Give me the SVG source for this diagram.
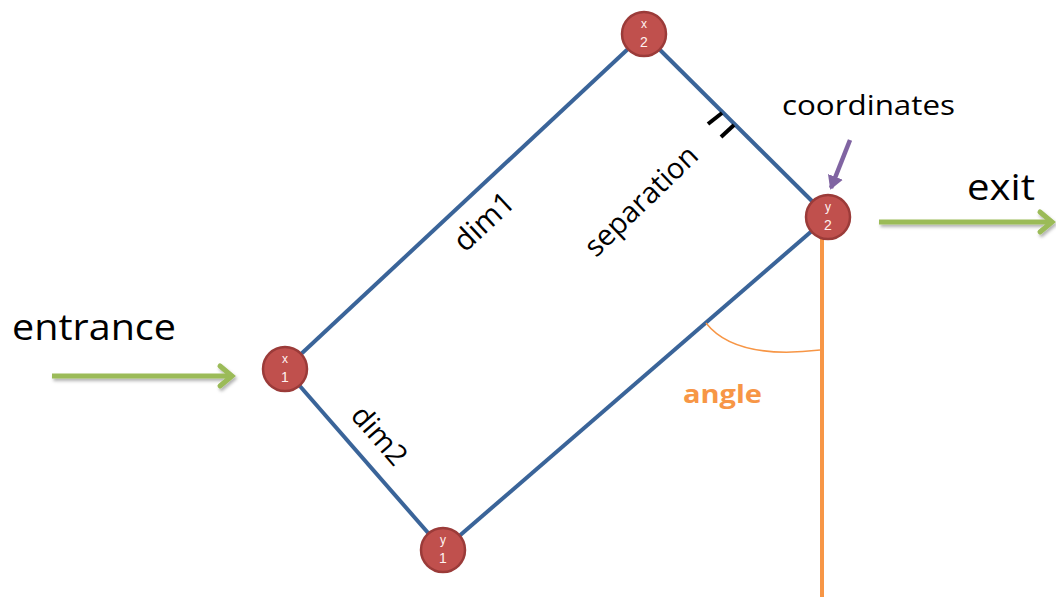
<svg xmlns="http://www.w3.org/2000/svg" width="1056" height="597" viewBox="0 0 1056 597">
<style>
.edge{stroke:#3A6499;stroke-width:4;fill:none}
.node circle{fill:#C0504D;stroke:#9B3B39;stroke-width:2.5}
.node text{fill:#FFF2F0;font-family:"Liberation Sans",Arial,sans-serif;text-anchor:middle}
.lbl{font-family:"Open Sans","Liberation Sans",sans-serif;fill:#000}
.green{stroke:#9BBB59;stroke-width:5;fill:none}
</style>
<defs>
<filter id="sh" x="-10%" y="-50%" width="120%" height="200%">
<feDropShadow dx="1.5" dy="2.5" stdDeviation="1.5" flood-color="#000" flood-opacity="0.3"/>
</filter>
<marker id="gh" markerUnits="userSpaceOnUse" markerWidth="30" markerHeight="30" refX="18" refY="12" orient="auto" viewBox="0 0 30 24">
<polyline points="6,2 18,12 6,22" fill="none" stroke="#9BBB59" stroke-width="5" stroke-linecap="round" stroke-linejoin="miter"/>
</marker>
<marker id="ph" markerUnits="userSpaceOnUse" markerWidth="20" markerHeight="20" refX="12" refY="8" orient="auto" viewBox="0 0 20 16">
<path d="M0,0 L14,8 L0,16 Z" fill="#8064A2"/>
</marker>
</defs>
<g id="connectors">
<line class="edge" x1="285" y1="369" x2="644" y2="34"/>
<line class="edge" x1="644" y1="34" x2="828" y2="217"/>
<line class="edge" x1="828" y1="217" x2="443" y2="550"/>
<line class="edge" x1="443" y1="550" x2="285" y2="369"/>
<line x1="822" y1="230" x2="822" y2="597" stroke="#F79646" stroke-width="4"/>
<path d="M706,323 Q735,360 820,350" fill="none" stroke="#F79646" stroke-width="1.5"/>
<line x1="708" y1="124" x2="722" y2="113" stroke="#000" stroke-width="4"/>
<line x1="721" y1="137" x2="734" y2="125" stroke="#000" stroke-width="4"/>
<line x1="850" y1="140" x2="831" y2="188" stroke="#8064A2" stroke-width="4.5" marker-end="url(#ph)"/>
<g filter="url(#sh)">
<line class="green" x1="52" y1="376" x2="232" y2="376" marker-end="url(#gh)"/>
<line class="green" x1="879" y1="222" x2="1052" y2="222" marker-end="url(#gh)"/>
</g>
</g>
<g id="node-x1" class="node"><circle cx="285" cy="369" r="22"/><text x="285" y="363" font-size="12">x</text><text x="285" y="382" font-size="14">1</text></g>
<g id="node-x2" class="node"><circle cx="644" cy="34" r="22"/><text x="644" y="28" font-size="12">x</text><text x="644" y="47" font-size="14">2</text></g>
<g id="node-y2" class="node"><circle cx="828" cy="217" r="22"/><text x="828" y="211" font-size="12">y</text><text x="828" y="230" font-size="14">2</text></g>
<g id="node-y1" class="node"><circle cx="443" cy="550" r="22"/><text x="443" y="544" font-size="12">y</text><text x="443" y="563" font-size="14">1</text></g>
<g id="labels">
<text class="lbl" x="12" y="340" font-size="36" textLength="164" lengthAdjust="spacingAndGlyphs">entrance</text>
<text class="lbl" x="967" y="200" font-size="36" textLength="68" lengthAdjust="spacingAndGlyphs">exit</text>
<text class="lbl" x="782" y="115" font-size="27" textLength="173" lengthAdjust="spacingAndGlyphs">coordinates</text>
<text class="lbl" font-size="30" text-anchor="middle" transform="translate(491,229) rotate(-43)">dim1</text>
<text class="lbl" font-size="29" text-anchor="middle" transform="translate(648,208) rotate(-44)">separation</text>
<text class="lbl" font-size="29" text-anchor="middle" transform="translate(372,442) rotate(49)">dim2</text>
<text x="683" y="403" font-size="25" font-weight="bold" fill="#F79646" font-family="'Open Sans','Liberation Sans',sans-serif" textLength="79" lengthAdjust="spacingAndGlyphs">angle</text>
</g>
</svg>
